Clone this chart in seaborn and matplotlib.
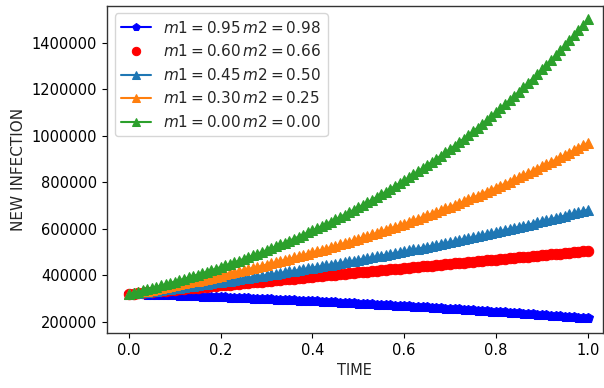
import numpy as np
import pandas as pd
import matplotlib
matplotlib.use("Agg")
import matplotlib.pyplot as plt
import seaborn as sns

# time grid (101 samples from 0 to 1)
time = [round(i / 100, 2) for i in range(101)]

# values, in thousands
s_095_098 = [320.0, 319.4, 318.8, 318.2, 317.5, 316.9, 316.2, 315.6, 314.9, 314.2,
             313.6, 312.9, 312.2, 311.4, 310.7, 310.0, 309.2, 308.5, 307.7, 307.0,
             306.2, 305.4, 304.6, 303.8, 303.0, 302.2, 301.4, 300.5, 299.7, 298.8,
             298.0, 297.1, 296.2, 295.3, 294.4, 293.5, 292.6, 291.6, 290.7, 289.8,
             288.8, 287.8, 286.9, 285.9, 284.9, 283.9, 282.9, 281.9, 280.8, 279.8,
             278.8, 277.7, 276.6, 275.6, 274.5, 273.4, 272.3, 271.2, 270.1, 268.9,
             267.8, 266.7, 265.5, 264.3, 263.2, 262.0, 260.8, 259.6, 258.4, 257.2,
             256.0, 254.7, 253.5, 252.2, 251.0, 249.7, 248.4, 247.1, 245.8, 244.5,
             243.2, 241.9, 240.5, 239.2, 237.9, 236.5, 235.1, 233.7, 232.4, 231.0,
             229.6, 228.1, 226.7, 225.3, 223.8, 222.4, 220.9, 219.5, 218.0, 216.5,
             215.0]
s_060_066 = [320.0, 321.9, 323.7, 325.6, 327.4, 329.3, 331.1, 333.0, 334.8, 336.7,
             338.5, 340.4, 342.2, 344.1, 345.9, 347.8, 349.6, 351.5, 353.3, 355.2,
             357.0, 358.9, 360.7, 362.6, 364.4, 366.3, 368.1, 370.0, 371.8, 373.7,
             375.5, 377.4, 379.2, 381.1, 382.9, 384.8, 386.6, 388.5, 390.3, 392.2,
             394.0, 395.9, 397.7, 399.6, 401.4, 403.3, 405.1, 407.0, 408.8, 410.7,
             412.5, 414.4, 416.2, 418.1, 419.9, 421.8, 423.6, 425.5, 427.3, 429.2,
             431.0, 432.9, 434.7, 436.6, 438.4, 440.3, 442.1, 444.0, 445.8, 447.7,
             449.5, 451.4, 453.2, 455.1, 456.9, 458.8, 460.6, 462.5, 464.3, 466.2,
             468.0, 469.9, 471.7, 473.6, 475.4, 477.3, 479.1, 481.0, 482.8, 484.7,
             486.5, 488.4, 490.2, 492.1, 493.9, 495.8, 497.6, 499.5, 501.3, 503.2,
             505.0]
s_045_050 = [320.0, 322.4, 324.9, 327.3, 329.8, 332.3, 334.9, 337.4, 340.0, 342.6,
             345.2, 347.8, 350.4, 353.1, 355.8, 358.5, 361.2, 363.9, 366.7, 369.5,
             372.3, 375.1, 378.0, 380.9, 383.8, 386.7, 389.6, 392.6, 395.6, 398.6,
             401.6, 404.6, 407.7, 410.8, 413.9, 417.1, 420.2, 423.4, 426.7, 429.9,
             433.2, 436.5, 439.8, 443.1, 446.5, 449.9, 453.3, 456.7, 460.2, 463.7,
             467.2, 470.8, 474.4, 478.0, 481.6, 485.3, 488.9, 492.7, 496.4, 500.2,
             504.0, 507.8, 511.7, 515.5, 519.5, 523.4, 527.4, 531.4, 535.4, 539.5,
             543.6, 547.7, 551.9, 556.1, 560.3, 564.6, 568.9, 573.2, 577.5, 581.9,
             586.4, 590.8, 595.3, 599.8, 604.4, 609.0, 613.6, 618.3, 622.9, 627.7,
             632.5, 637.3, 642.1, 647.0, 651.9, 656.9, 661.8, 666.9, 671.9, 677.0,
             682.2]
s_030_025 = [320.0, 323.6, 327.2, 330.8, 334.5, 338.2, 342.0, 345.8, 349.7, 353.6,
             357.5, 361.5, 365.6, 369.6, 373.8, 377.9, 382.1, 386.4, 390.7, 395.1,
             399.5, 403.9, 408.4, 413.0, 417.6, 422.2, 427.0, 431.7, 436.5, 441.4,
             446.3, 451.3, 456.3, 461.4, 466.6, 471.8, 477.0, 482.3, 487.7, 493.2,
             498.7, 504.2, 509.8, 515.5, 521.3, 527.1, 533.0, 538.9, 544.9, 551.0,
             557.1, 563.4, 569.6, 576.0, 582.4, 588.9, 595.5, 602.1, 608.8, 615.6,
             622.5, 629.4, 636.4, 643.5, 650.7, 658.0, 665.3, 672.7, 680.2, 687.8,
             695.5, 703.2, 711.1, 719.0, 727.0, 735.1, 743.3, 751.6, 760.0, 768.5,
             777.1, 785.7, 794.5, 803.3, 812.3, 821.4, 830.5, 839.8, 849.1, 858.6,
             868.2, 877.9, 887.7, 897.6, 907.6, 917.7, 927.9, 938.3, 948.7, 959.3,
             970.0]
s_000_000 = [320.0, 325.0, 330.0, 335.2, 340.4, 345.7, 351.1, 356.6, 362.1, 367.7,
             373.5, 379.3, 385.2, 391.2, 397.3, 403.5, 409.7, 416.1, 422.6, 429.2,
             435.9, 442.6, 449.5, 456.5, 463.6, 470.9, 478.2, 485.7, 493.2, 500.9,
             508.7, 516.6, 524.6, 532.8, 541.1, 549.5, 558.1, 566.8, 575.6, 584.6,
             593.7, 602.9, 612.3, 621.8, 631.5, 641.4, 651.3, 661.5, 671.8, 682.3,
             692.9, 703.7, 714.6, 725.7, 737.0, 748.5, 760.2, 772.0, 784.0, 796.3,
             808.6, 821.2, 834.0, 847.0, 860.2, 873.6, 887.2, 901.0, 915.0, 929.3,
             943.7, 958.4, 973.4, 988.5, 1003.9, 1019.6, 1035.4, 1051.5, 1067.9, 1084.6,
             1101.4, 1118.6, 1136.0, 1153.7, 1171.6, 1189.9, 1208.4, 1227.3, 1246.4, 1265.8,
             1285.5, 1305.5, 1325.8, 1346.4, 1367.4, 1388.7, 1410.3, 1432.3, 1454.6, 1477.2,
             1500.2]

labels = [r"$m1 = 0.95\,m2 = 0.98$", r"$m1 = 0.60\,m2 = 0.66$",
          r"$m1 = 0.45\,m2 = 0.50$", r"$m1 = 0.30\,m2 = 0.25$",
          r"$m1 = 0.00\,m2 = 0.00$"]
series = [s_095_098, s_060_066, s_045_050, s_030_025, s_000_000]
colors = ["blue", "red", "#1f77b4", "#ff7f0e", "#2ca02c"]
markers = ["p", "o", "^", "^", "^"]
linestyles = ["-", "", "-", "-", "-"]

sns.set_style("white")
plt.rcParams["font.family"] = ["DejaVu Sans"]

fig = plt.figure(figsize=(6.04, 3.88), dpi=100)
ax = fig.add_axes([0.177, 0.142, 0.821, 0.843])

for lab, vals, c, m, ls in zip(labels, series, colors, markers, linestyles):
    df = pd.DataFrame({"time": time, "value": np.array(vals) * 1000})
    sns.lineplot(data=df, x="time", y="value", ax=ax, color=c, marker=m,
                 linestyle=ls, markersize=7.5, markeredgecolor=c, label=lab)

ax.set_xlim(-0.048, 1.033)
ax.set_ylim(152700, 1559000)
ax.set_xticks([0.0, 0.2, 0.4, 0.6, 0.8, 1.0])
ax.set_yticks([200000, 400000, 600000, 800000, 1000000, 1200000, 1400000])
ax.ticklabel_format(axis="y", style="plain")
ax.tick_params(axis="both", direction="out", length=3.5, width=0.8, labelsize=10.5,
               left=True, bottom=True, colors="black")
for sp in ax.spines.values():
    sp.set_visible(True)
    sp.set_color("#333333")
    sp.set_linewidth(1.0)
ax.set_xlabel("TIME", fontsize=10.5)
ax.set_ylabel("NEW INFECTION", fontsize=11)
leg = ax.legend(loc="upper left", fontsize=11, frameon=True, markerscale=0.8)

fig.savefig("out.png", dpi=100)
